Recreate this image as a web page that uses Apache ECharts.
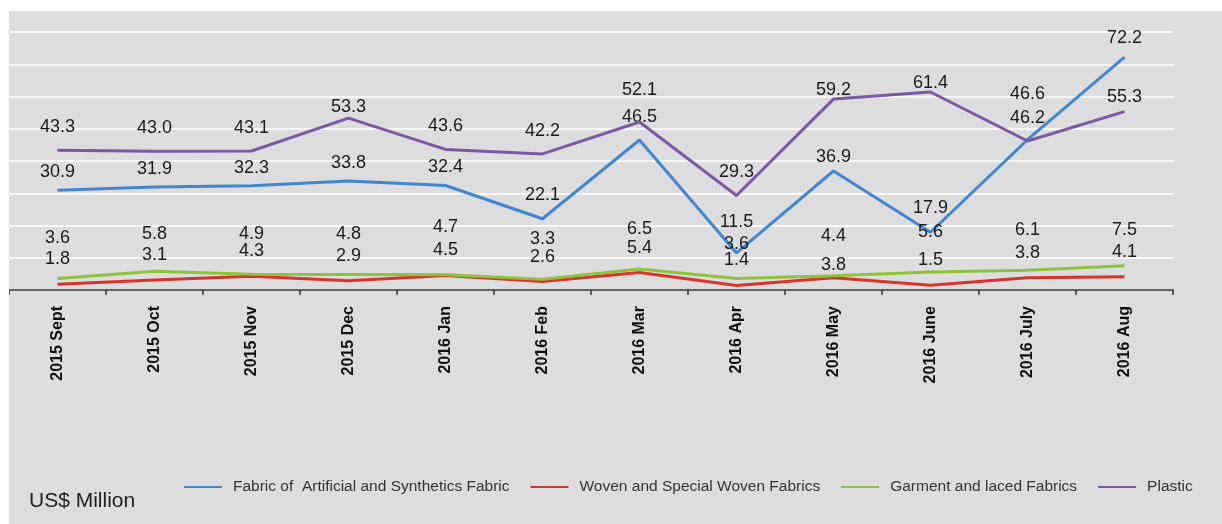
<!DOCTYPE html>
<html>
<head>
<meta charset="utf-8">
<script src="https://cdn.jsdelivr.net/npm/echarts@6/dist/echarts.min.js"></script>
<style>
  html, body { margin: 0; padding: 0; background: #ffffff; }
  #chart { position: absolute; left: 9px; top: 11px; width: 1213px; height: 513px; background: #dddddd; }
</style>
</head>
<body>
<div id="chart"></div>
<script>
// ---- data ----
const categories = ['2015 Sept', '2015 Oct', '2015 Nov', '2015 Dec', '2016 Jan', '2016 Feb',
                    '2016 Mar', '2016 Apr', '2016 May', '2016 June', '2016 July', '2016 Aug'];
const fabricArtificial = [30.9, 31.9, 32.3, 33.8, 32.4, 22.1, 46.5, 11.5, 36.9, 17.9, 46.6, 72.2];
const wovenSpecial     = [1.8, 3.1, 4.3, 2.9, 4.5, 2.6, 5.4, 1.4, 3.8, 1.5, 3.8, 4.1];
const garmentLaced     = [3.6, 5.8, 4.9, 4.8, 4.7, 3.3, 6.5, 3.6, 4.4, 5.6, 6.1, 7.5];
const plastic          = [43.3, 43.0, 43.1, 53.3, 43.6, 42.2, 52.1, 29.3, 59.2, 61.4, 46.2, 55.3];
const seriesNames = ['Fabric of  Artificial and Synthetics Fabric', 'Woven and Special Woven Fabrics',
                     'Garment and laced Fabrics', 'Plastic'];
const yTicks = [0, 80, 10];  // min, max, interval
const unitLabel = 'US$ Million';

// ---- styling ----
const colors = ['#3f86d3', '#d8342c', '#8cc43c', '#7c59a6'];
const baseDist = [9, 16, 31, 14];
// per-point label distance overrides {seriesIdx: {pointIdx: distance}}
const distOverride = {
  0: {5: 15, 6: 14, 7: 22, 8: 5, 9: 15, 10: 37, 11: 10},
  1: {8: 4},
  2: {1: 28, 4: 39, 7: 25, 11: 27},
  3: {3: 2, 6: 23, 8: 0, 9: 0, 11: 6}
};
const FONT = '"Liberation Sans", Arial, sans-serif';

function buildData(values, si) {
  return values.map((v, i) => {
    const d = (distOverride[si] && distOverride[si][i] !== undefined) ? distOverride[si][i] : baseDist[si];
    return { value: v, label: { distance: d } };
  });
}

const valueSets = [fabricArtificial, wovenSpecial, garmentLaced, plastic];
const drawOrder = [3, 0, 1, 2];

const series = drawOrder.map(si => ({
  name: seriesNames[si],
  type: 'line',
  data: buildData(valueSets[si], si),
  symbol: 'circle',
  symbolSize: 0,
  showSymbol: true,
  lineStyle: { width: 3, color: colors[si] },
  itemStyle: { color: colors[si] },
  z: 2 + si,
  label: {
    show: true,
    position: 'top',
    color: '#1a1a1a',
    fontSize: 18,
    fontFamily: FONT,
    formatter: p => p.value.toFixed(1)
  },
  emphasis: { disabled: true }
}));

const chart = echarts.init(document.getElementById('chart'), null, { renderer: 'canvas' });
chart.setOption({
  backgroundColor: '#dddddd',
  animation: false,
  color: colors,
  grid: { left: 0, right: 49, top: 21, bottom: 234, containLabel: false },
  xAxis: {
    type: 'category',
    data: categories,
    boundaryGap: true,
    axisLine: { lineStyle: { color: '#333333', width: 1.5 } },
    axisTick: { show: true, length: 5, lineStyle: { color: '#333333', width: 1.5 } },
    axisLabel: { rotate: 90, margin: 16, fontSize: 16, fontWeight: 'bold', color: '#111111', fontFamily: FONT, interval: 0 }
  },
  yAxis: {
    type: 'value',
    min: yTicks[0], max: yTicks[1], interval: yTicks[2],
    axisLine: { show: false },
    axisTick: { show: false },
    axisLabel: { show: false },
    splitLine: { show: true, lineStyle: { color: '#ffffff', width: 1.5 } }
  },
  legend: {
    data: seriesNames.map((n, i) => ({ name: n, itemStyle: { color: colors[i] }, lineStyle: { color: colors[i], width: 2 } })),
    left: 170,
    top: 463,
    itemWidth: 38,
    itemHeight: 14,
    itemGap: 21,
    icon: 'path://M0,6 L38,6 L38,8 L0,8 Z',
    textStyle: { fontSize: 15.5, color: '#333333', fontFamily: FONT, padding: [0, 0, 0, 6] },
    selectedMode: false
  },
  graphic: [{
    type: 'text',
    left: 20,
    top: 480,
    style: { text: unitLabel, fontSize: 21, fill: '#222222', fontFamily: FONT }
  }],
  series: series
});
</script>
</body>
</html>
